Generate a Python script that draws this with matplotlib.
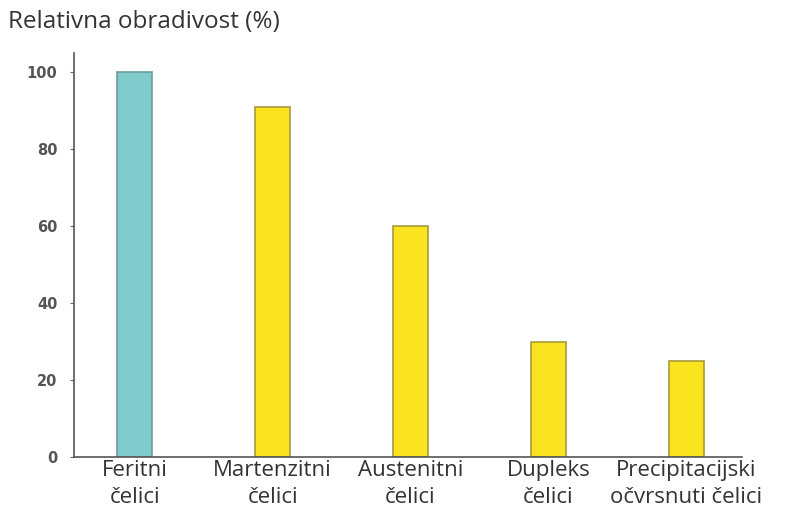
import matplotlib
matplotlib.use("Agg")
import matplotlib.pyplot as plt

categories = ["Feritni\nčelici", "Martenzitni\nčelici", "Austenitni\nčelici",
              "Dupleks\nčelici", "Precipitacijski\nočvrsnuti čelici"]
values = [100, 91, 60, 30, 25]
colors = ["#80cccc", "#f9e41f", "#f9e41f", "#f9e41f", "#f9e41f"]
edges = ["#6f9a9a", "#a99a3a", "#a99a3a", "#a99a3a", "#a99a3a"]
yticks = [0, 20, 40, 60, 80, 100]

fig = plt.figure(figsize=(7.89, 5.18), dpi=100)
ax = fig.add_axes([0.0938, 0.1178, 0.846, 0.780])
x = list(range(len(categories)))
ax.bar(x, values, width=0.25, color=colors, edgecolor=edges, linewidth=1.2)
ax.set_xlim(-0.44, 4.40)
ax.set_ylim(0, 105)
ax.set_yticks(yticks)
ax.set_yticklabels([str(v) for v in yticks], fontsize=10.5, color="#555555",
                   fontweight="bold", family="DejaVu Sans")
ax.set_xticks(x)
ax.set_xticklabels(categories, fontsize=16, color="#333333", family="Open Sans",
                   linespacing=1.4)
ax.tick_params(axis="x", length=0, pad=2)
ax.tick_params(axis="y", length=3, pad=9, color="#666666")
for s in ["top", "right"]:
    ax.spines[s].set_visible(False)
for s in ["left", "bottom"]:
    ax.spines[s].set_color("#555555")
    ax.spines[s].set_linewidth(1.2)
fig.text(0.010, 0.957, "Relativna obradivost (%)", fontsize=17.5, color="#333333",
         family="Open Sans", va="center", ha="left")
fig.savefig("out.png", dpi=100)
